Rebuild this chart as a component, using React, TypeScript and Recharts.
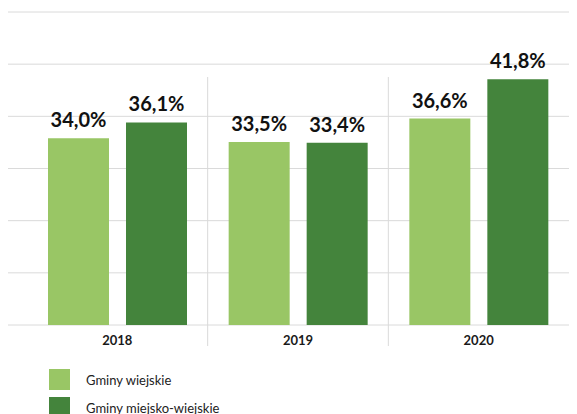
import React from 'react';
import { BarChart, Bar, XAxis, YAxis, CartesianGrid, Legend, LabelList } from 'recharts';

const years = ['2018', '2019', '2020'];
const gminyWiejskie = [34.0, 33.5, 36.6];
const gminyMiejskoWiejskie = [36.1, 33.4, 41.8];
const seriesNames = ['Gminy wiejskie', 'Gminy miejsko-wiejskie'];
const yDomain = [9.3, 50.7];
const yTicks = [9.3, 16.2, 23.1, 30.0, 36.9, 43.8, 50.7];

const data = years.map((y, i) => ({
  year: y,
  wiejskie: gminyWiejskie[i],
  miejskoWiejskie: gminyMiejskoWiejskie[i],
}));

const LIGHT = '#99C665';
const DARK = '#44843C';
const GRID = '#DADADA';
const FONT = 'Lato, "Open Sans", sans-serif';
const seriesColors = [LIGHT, DARK];

const fmt = (v: any) => `${Number(v).toFixed(1).replace('.', ',')}%`;

const YearTick = (props: any) => {
  const { x, y, payload, index } = props;
  const half = payload && payload.offset ? payload.offset : 90.3;
  return (
    <g>
      {index > 0 && (
        <line x1={x - half} x2={x - half} y1={y - 248} y2={y + 21} stroke={GRID} strokeWidth={1} />
      )}
      <text x={x} y={y} dy={20} textAnchor="middle" fontFamily={FONT} fontWeight={700} fontSize={13} fill="#1a1a1a">
        {payload.value}
      </text>
    </g>
  );
};

const LegendContent = () => {
  return (
    <div style={{ fontFamily: FONT, fontSize: 13, color: '#222' }}>
      {seriesNames.map((name, i) => (
        <div key={name} style={{ display: 'flex', alignItems: 'center', height: 21, marginBottom: 7 }}>
          <div style={{ width: 21, height: 21, background: seriesColors[i], marginRight: 16 }} />
          <span>{name}</span>
        </div>
      ))}
    </div>
  );
};

export default function App() {
  return (
    <BarChart
      width={569}
      height={406}
      data={data}
      margin={{ top: 4, right: 0, left: 0, bottom: 59 }}
      barSize={61}
      barGap={17}
    >
      <CartesianGrid vertical={false} stroke={GRID} />
      <XAxis
        dataKey="year"
        axisLine={false}
        tickLine={false}
        tickSize={0}
        tickMargin={0}
        height={30}
        padding={{ left: 19, right: 8 }}
        tick={<YearTick />}
        interval={0}
      />
      <YAxis hide domain={yDomain} ticks={yTicks} allowDataOverflow type="number" />
      <Legend
        layout="vertical"
        align="center"
        verticalAlign="middle"
        content={<LegendContent />}
        wrapperStyle={{ top: 361, left: 41, width: 300, height: 45 }}
      />
      <Bar dataKey="wiejskie" name={seriesNames[0]} fill={LIGHT} isAnimationActive={false}>
        <LabelList dataKey="wiejskie" position="top" offset={11} formatter={fmt}
          style={{ fontFamily: FONT, fontWeight: 700, fontSize: 20, fill: '#111' }} />
      </Bar>
      <Bar dataKey="miejskoWiejskie" name={seriesNames[1]} fill={DARK} isAnimationActive={false}>
        <LabelList dataKey="miejskoWiejskie" position="top" offset={11} formatter={fmt}
          style={{ fontFamily: FONT, fontWeight: 700, fontSize: 20, fill: '#111' }} />
      </Bar>
    </BarChart>
  );
}
